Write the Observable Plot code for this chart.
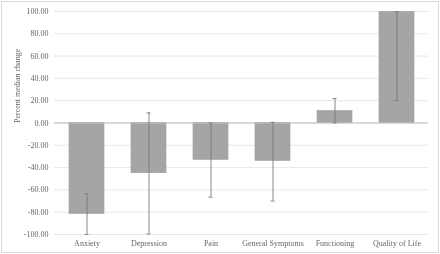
<!DOCTYPE html>
<html>
<head>
<meta charset="utf-8">
<script src="https://cdn.jsdelivr.net/npm/d3@7"></script>
<script src="https://cdn.jsdelivr.net/npm/@observablehq/plot@0.6"></script>
<style>
  html, body { margin: 0; padding: 0; background: #fff; }
  svg { display: block; outline: 1px solid #d9d9d9; outline-offset: -2px; opacity: 0.999; will-change: transform; }
</style>
</head>
<body>
<div id="chart"></div>
<script>
const categories = ["Anxiety", "Depression", "Pain", "General Symptoms", "Functioning", "Quality of Life"];
const medians = [-81.5, -45, -33, -34, 10.7, 99.5];
const errLow = [-100, -99.5, -66.5, -70, 0, 20];
const errHigh = [-63.5, 9, 0, 0.5, 22, 100];
const yTicks = [-100, -80, -60, -40, -20, 0, 20, 40, 60, 80, 100];

const data = categories.map((c, i) => ({cat: c, v: medians[i], lo: errLow[i], hi: errHigh[i]}));

const chart = Plot.plot({
  width: 440,
  height: 254,
  marginTop: 11,
  marginBottom: 20,
  marginLeft: 54,
  marginRight: 12,
  style: {fontFamily: "'Liberation Serif', 'Times New Roman', serif", fontSize: "8px", color: "#666", background: "#fff"},
  x: {domain: categories, paddingInner: 0.44, paddingOuter: 0.225, label: null, tickSize: 0, tickPadding: 6},
  y: {domain: [-100, 100], ticks: yTicks, tickFormat: d => d.toFixed(2), label: null, tickSize: 0, tickPadding: 6, grid: false},
  marks: [
    Plot.gridY(yTicks, {stroke: "#d9d9d9", strokeOpacity: 0.6}),
    Plot.barY(data, {x: "cat", y: "v", fill: "#a5a5a5", stroke: "#999", strokeWidth: 0.6}),
    Plot.ruleY([0], {stroke: "#bfbfbf", strokeWidth: 1}),
    Plot.ruleX(data, {x: "cat", y1: "lo", y2: "hi", stroke: "#7a7a7a", strokeWidth: 0.9}),
    Plot.tickY(data, {x: "cat", y: "lo", stroke: "#7a7a7a", strokeWidth: 0.9, insetLeft: 15.5, insetRight: 15.5}),
    Plot.tickY(data, {x: "cat", y: "hi", stroke: "#7a7a7a", strokeWidth: 0.9, insetLeft: 15.5, insetRight: 15.5}),
    Plot.axisX({tickSize: 0, tickPadding: 6, label: null, fill: "#666"}),
    Plot.axisY({ticks: yTicks, tickFormat: d => d.toFixed(2), tickSize: 0, tickPadding: 6, label: null, fill: "#666"}),
    Plot.text(["Percent median change"], {frameAnchor: "left", dx: -37, rotate: -90, fill: "#666", fontSize: 8})
  ]
});
document.getElementById("chart").appendChild(chart);
</script>
</body>
</html>
